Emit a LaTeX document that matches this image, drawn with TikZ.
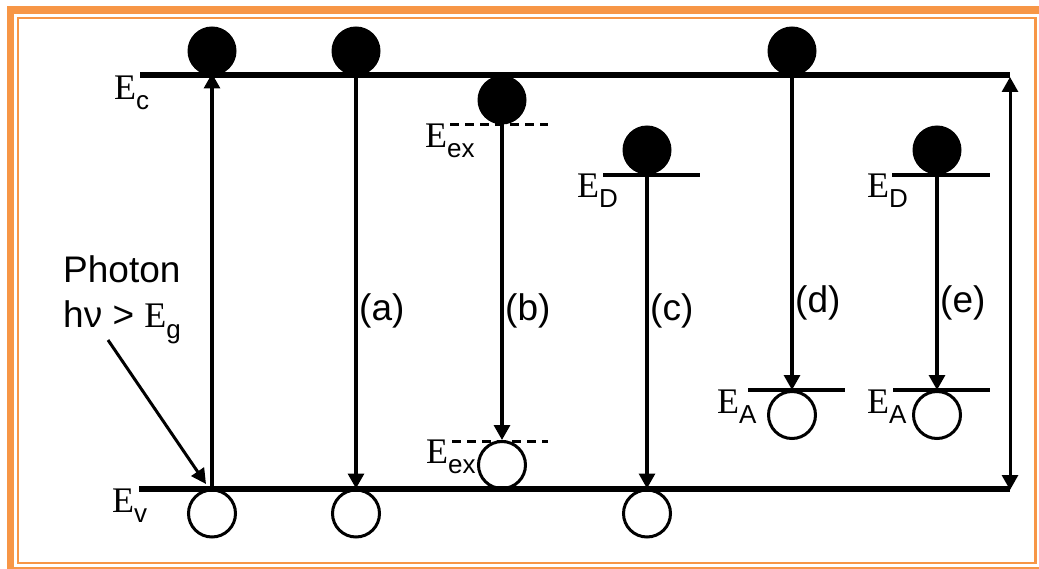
\documentclass[tikz,border=0pt]{standalone}
\usepackage{fontspec}
\setmainfont{Liberation Sans}
\newfontfamily\serifE{Liberation Serif}
\usetikzlibrary{arrows.meta}
\definecolor{orng}{HTML}{F79646}
\newcommand{\lev}[1]{{\serifE\fontsize{36}{40}\selectfont E}\raisebox{-10pt}{\fontsize{26}{28}\selectfont #1}}
\begin{document}
\begin{tikzpicture}[x=1pt,y=-1pt,
  band/.style={line width=5.5pt},
  lvl/.style={line width=3.2pt},
  dlvl/.style={line width=3pt,dash pattern=on 9pt off 6pt},
  conn/.style={line width=3.2pt,-{Triangle[length=15pt,width=16pt]}},
  dconn/.style={line width=3pt,{Triangle[length=15pt,width=16pt]}-{Triangle[length=15pt,width=16pt]}},
  elec/.style={circle,fill=black,minimum size=49pt,inner sep=0pt,outer sep=0pt},
  hole/.style={circle,draw=black,line width=3pt,minimum size=47pt,inner sep=0pt},
  elab/.style={anchor=base west,inner sep=0pt},
  lab/.style={anchor=west,inner sep=0pt,font=\fontsize{37}{42}\selectfont},
  ptxt/.style={anchor=base west,inner sep=0pt,font=\fontsize{37}{42}\selectfont}
]
\useasboundingbox (0,0) rectangle (1039,569);
% frame
\fill[orng] (7,6) rectangle (1039,14);
\fill[orng] (7,6) rectangle (14,569);
\draw[orng,line width=2.5pt] (18,18) rectangle (1035.5,563);
\draw[orng,line width=2pt] (14,567.5) -- (1039,567.5);

% band edges
\coordinate (ecL) at (140,75);
\coordinate (ecR) at (1010,75);
\coordinate (evL) at (139,489);
\coordinate (evR) at (1010,489);
\draw[band] (ecL) -- (ecR);
\draw[band] (evL) -- (evR);

% levels
\coordinate (x1L) at (450,125); \coordinate (x1R) at (548,125);
\coordinate (x2L) at (452,441); \coordinate (x2R) at (548,441);
\draw[dlvl] (x1L) -- (x1R);
\draw[dlvl] (x2L) -- (x2R);
\coordinate (d1L) at (603,175); \coordinate (d1R) at (700,175);
\coordinate (d2L) at (892,175); \coordinate (d2R) at (990,175);
\coordinate (a1L) at (748,390); \coordinate (a1R) at (845,390);
\coordinate (a2L) at (893,390); \coordinate (a2R) at (990,390);
\draw[lvl] (d1L) -- (d1R);
\draw[lvl] (d2L) -- (d2R);
\draw[lvl] (a1L) -- (a1R);
\draw[lvl] (a2L) -- (a2R);

% electrons
\node[elec] (e1) at (212,51) {};
\node[elec] (e2) at (356,51) {};
\node[elec] (e3) at (502,100) {};
\node[elec] (e4) at (647,150) {};
\node[elec] (e5) at (792,51) {};
\node[elec] (e6) at (937,150) {};
% holes
\node[hole] (h1) at (212,513.5) {};
\node[hole] (h2) at (356,513.5) {};
\node[hole] (h3) at (502,465) {};
\node[hole] (h4) at (647,513.5) {};
\node[hole] (h5) at (792,415) {};
\node[hole] (h6) at (937,415) {};

% transitions
\draw[conn,shorten >=-2pt] (h1.north) -- (e1.south);
\draw[conn] (e2.south) -- (h2.north);
\draw[conn] (e3.south) -- (h3.north);
\draw[conn] (e4.south) -- (h4.north);
\draw[conn] (e5.south) -- (h5.north);
\draw[conn] (e6.south) -- (h6.north);
\draw[dconn,shorten <=2pt,shorten >=-1pt] (ecR) -- (evR);

% labels
\node[elab] (lEc) at (114,100) {\lev{c}};
\node[elab] (lEv) at (112,512) {\lev{v}};
\node[elab] (lEx1) at (425,148) {\lev{ex}};
\node[elab] (lEx2) at (426,463) {\lev{ex}};
\node[elab] (lEd1) at (577,198) {\lev{D}};
\node[elab] (lEd2) at (867,198) {\lev{D}};
\node[elab] (lEa1) at (717,413) {\lev{A}};
\node[elab] (lEa2) at (867,413) {\lev{A}};

\node[lab] (la) at (359,311) {(a)};
\node[lab] (lb) at (505,311) {(b)};
\node[lab] (lc) at (650,311) {(c)};
\node[lab] (ld) at (795,303) {(d)};
\node[lab] (le) at (940,303) {(e)};

% photon
\node[ptxt] (ph1) at (63,283) {Photon};
\node[ptxt] (ph2) at (63,328) {hν > \lev{g}};
\coordinate (phs) at (108,340);
\coordinate (pht) at (206,484);
\draw[line width=3pt,-{Triangle[length=15pt,width=15pt]}] (phs) -- (pht);
\end{tikzpicture}
\end{document}
